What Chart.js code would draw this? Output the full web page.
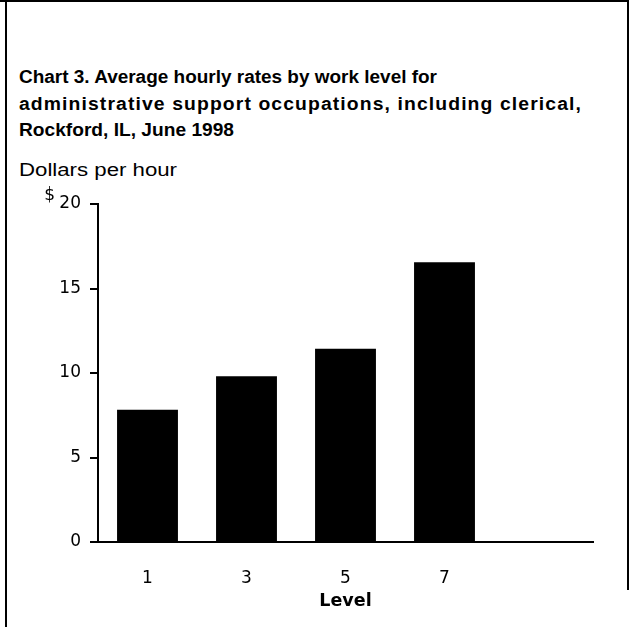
<!DOCTYPE html>
<html>
<head>
<meta charset="utf-8">
<script src="https://cdn.jsdelivr.net/npm/chart.js@4/dist/chart.umd.min.js"></script>
<style>
  html, body { margin: 0; padding: 0; background: #fff; }
  #wrap { position: relative; width: 629px; height: 627px; overflow: hidden; font-family: "Liberation Sans", Arial, sans-serif; color: #000; }
  #chart { position: absolute; left: 0; top: 0; }
  .frame { position: absolute; background: #000; }
  .txt { position: absolute; left: 19px; font-size: 17.5px; white-space: nowrap; transform-origin: 0 50%; line-height: 20px; }
  .bold { font-weight: bold; }
</style>
</head>
<body>
<div id="wrap">
  <div class="frame" style="left:0;top:0;width:629px;height:2px"></div>
  <div class="frame" style="left:5px;top:0;width:2px;height:627px"></div>
  <div class="frame" style="left:627px;top:0;width:2px;height:590px"></div>
  <div class="txt bold" style="top:67px" data-w="418">Chart 3. Average hourly rates by work level for</div>
  <div class="txt bold" style="top:94px;letter-spacing:1px" data-w="563">administrative support occupations, including clerical,</div>
  <div class="txt bold" style="top:120px" data-w="215">Rockford, IL, June 1998</div>
  <div class="txt" style="top:160px" data-w="158">Dollars per hour</div>
  <canvas id="chart" width="629" height="627"></canvas>
</div>
<script>
// Work levels shown on the category axis (the last slot is left empty)
const levels = ['1', '3', '5', '7', ''];
// Average hourly rate, dollars
const hourlyRates = [7.82, 9.81, 11.43, 16.55, null];
// Value axis range
const yMin = 0;
const yMax = 20;
const yStep = 5;

const FONT = '"DejaVu Sans", sans-serif';

// Stretch the heading lines to their set widths
document.querySelectorAll('.txt[data-w]').forEach(el => {
  const w = el.getBoundingClientRect().width;
  el.style.transform = 'scaleX(' + (Number(el.dataset.w) / w) + ')';
});

// Puts a raised "$" in front of the top tick label
const dollarSign = {
  id: 'dollarSign',
  afterDraw(chart) {
    const y = chart.scales.y;
    const ctx = chart.ctx;
    ctx.save();
    ctx.font = '17px ' + FONT;
    ctx.fillStyle = '#000';
    ctx.textAlign = 'right';
    ctx.textBaseline = 'alphabetic';
    ctx.fillText('$', 55, y.getPixelForValue(yMax) - 4);
    ctx.restore();
  }
};

new Chart(document.getElementById('chart'), {
  type: 'bar',
  data: {
    labels: levels,
    datasets: [{
      data: hourlyRates,
      backgroundColor: '#000',
      borderWidth: 0,
      categoryPercentage: 1,
      barPercentage: 0.615
    }]
  },
  options: {
    responsive: false,
    animation: false,
    layout: { padding: { left: 38, right: 36, top: 204, bottom: 0 } },
    plugins: { legend: { display: false }, tooltip: { enabled: false }, title: { display: false } },
    scales: {
      x: {
        afterFit(scale) { scale.height = 85; },
        grid: { display: false, drawTicks: false },
        border: { display: true, color: '#000', width: 2 },
        ticks: { color: '#000', font: { family: FONT, size: 17 }, padding: 26, maxRotation: 0 },
        title: { display: true, text: 'Level', color: '#000', font: { family: FONT, size: 17.5, weight: 'bold' }, padding: { top: 0, bottom: 15 } }
      },
      y: {
        min: yMin,
        max: yMax,
        afterFit(scale) { scale.width = 60; },
        grid: { display: true, drawOnChartArea: false, drawTicks: true, tickLength: 8, color: '#000', lineWidth: 2 },
        border: { display: true, color: '#000', width: 2 },
        ticks: { stepSize: yStep, color: '#000', font: { family: FONT, size: 17 }, padding: 9 }
      }
    }
  },
  plugins: [dollarSign]
});
</script>
</body>
</html>
